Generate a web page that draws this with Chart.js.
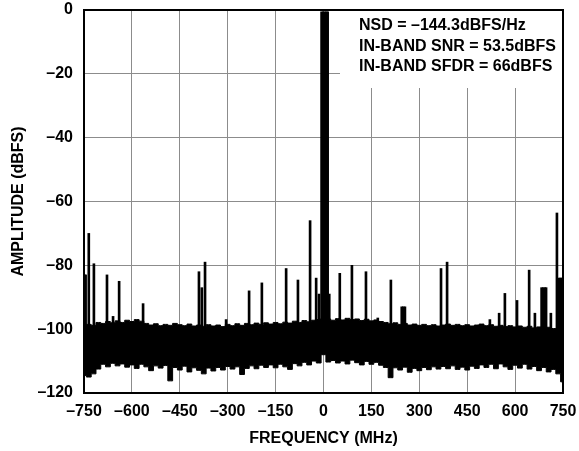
<!DOCTYPE html>
<html>
<head>
<meta charset="utf-8">
<script src="https://cdn.jsdelivr.net/npm/chart.js@4/dist/chart.umd.min.js"></script>
<style>
  html, body { margin: 0; padding: 0; background: #fff; }
  #wrap { width: 579px; height: 451px; }
</style>
</head>
<body>
<div id="wrap"><canvas id="fft-chart" width="579" height="451"></canvas></div>
<script>
// noise floor, sampled every 15 MHz (top and bottom of the black band)
const noiseFreqs = [
  -750, -735, -720, -705, -690, -675, -660, -645, -630, -615,
  -600, -585, -570, -555, -540, -525, -510, -495, -480, -465,
  -450, -435, -420, -405, -390, -375, -360, -345, -330, -315,
  -300, -285, -270, -255, -240, -225, -210, -195, -180, -165,
  -150, -135, -120, -105, -90, -75, -60, -45, -30, -15,
  0, 15, 30, 45, 60, 75, 90, 105, 120, 135,
  150, 165, 180, 195, 210, 225, 240, 255, 270, 285,
  300, 315, 330, 345, 360, 375, 390, 405, 420, 435,
  450, 465, 480, 495, 510, 525, 540, 555, 570, 585,
  600, 615, 630, 645, 660, 675, 690, 705, 720, 735, 750
];
const noiseTop = [
  -99.0, -98.5, -98.8, -97.9, -98.2, -97.6, -98.0, -97.4, -97.9, -97.2,
  -97.6, -97.0, -97.5, -98.2, -98.7, -98.3, -98.9, -98.5, -98.8, -98.2,
  -98.6, -98.9, -98.4, -99.0, -98.7, -99.1, -98.6, -99.0, -98.7, -99.2,
  -98.5, -98.9, -98.3, -98.8, -98.2, -98.6, -98.1, -98.5, -98.0, -98.4,
  -97.9, -98.3, -97.8, -98.1, -97.5, -97.9, -97.3, -97.7, -97.2, -97.0,
  -96.5, -96.8, -97.2, -96.7, -97.1, -96.6, -97.0, -96.8, -97.3, -96.9,
  -97.4, -97.1, -97.6, -97.9, -98.3, -98.0, -98.5, -98.2, -98.7, -98.4,
  -98.8, -98.5, -98.9, -98.6, -99.0, -98.7, -98.4, -98.8, -98.5, -98.9,
  -98.6, -99.0, -98.7, -98.4, -98.9, -98.6, -99.1, -98.8, -99.2, -98.9,
  -99.3, -99.0, -99.4, -99.1, -99.6, -99.3, -99.7, -99.4, -99.8, -99.9, -100.2
];
const noiseBottom = [
  -114.5, -115.0, -114.0, -112.5, -111.0, -111.8, -110.7, -111.5, -110.9, -111.9,
  -111.2, -112.3, -111.0, -111.8, -113.0, -111.5, -112.2, -111.4, -116.2, -112.0,
  -112.8, -111.6, -113.4, -112.1, -112.9, -114.0, -112.2, -113.1, -112.0, -112.8,
  -111.7, -112.5, -111.8, -114.2, -112.3, -111.5, -112.4, -111.3, -112.0, -111.2,
  -112.1, -111.0, -111.8, -112.6, -110.8, -111.5, -110.4, -111.2, -110.0, -110.6,
  -108.0, -110.3, -109.8, -110.6, -110.0, -110.9, -109.7, -110.5, -111.2, -110.1,
  -111.0, -110.4, -111.3, -112.0, -115.2, -112.1, -112.8, -111.9, -113.5, -112.3,
  -113.0, -112.0, -112.7, -111.8, -112.5, -111.7, -112.4, -111.5, -112.6, -111.9,
  -112.8, -111.6, -112.3, -111.2, -112.0, -111.0, -112.4, -110.9, -111.8, -112.6,
  -111.3, -112.2, -111.0, -112.5, -111.7, -113.0, -112.0, -113.4, -112.6, -114.0, -116.5
];

// fundamental and spurs (MHz, dBFS)
const spurFreqs = [
  -749, -745, -735, -719, -678, -659, -640, -565, -390, -381, -371, -305,
  -233, -193, -117, -80, -42, -23, -14,
  -6, -1, 4, 9, 13,
  18, 51, 89, 133, 170, 211, 245, 250, 255, 368, 387,
  521, 550, 568, 606, 644, 662, 683, 688, 693, 697, 712, 731,
  737, 741, 745, 749
];
const spurLevels = [
  -83, -83, -70, -79.5, -83, -96, -85, -92, -82, -87, -79, -97,
  -88, -85.5, -81, -84.6, -66, -84, -89,
  -0.6, -0.6, -0.6, -0.6, -0.6,
  -89, -82.5, -80, -82, -96.5, -84.6, -93, -93, -93, -81, -79,
  -97, -95, -88.8, -91, -81.5, -95, -87, -87, -87, -87, -95, -63.6,
  -84, -84, -84, -84
];
const spurBase = -105;

const xTicks = [-750, -600, -450, -300, -150, 0, 150, 300, 450, 600, 750];
const yTicks = [-120, -100, -80, -60, -40, -20, 0];

const noteLines = [
  'NSD = \u2013144.3dBFS/Hz',
  'IN-BAND SNR = 53.5dBFS',
  'IN-BAND SFDR = 66dBFS'
];

const FONT = '"Liberation Sans", Arial, Helvetica, sans-serif';

function dash(v) {
  return v < 0 ? '\u2013' + Math.abs(v) : String(v);
}

// white box with the measurement notes, drawn over the grid
const notesBox = {
  id: 'notesBox',
  beforeDatasetsDraw(chart) {
    const { ctx, chartArea } = chart;
    ctx.save();
    ctx.fillStyle = '#fff';
    ctx.fillRect(340, chartArea.top + 1, chartArea.right - 340, 77);
    ctx.fillStyle = '#000';
    ctx.font = 'bold 16px ' + FONT;
    ctx.textBaseline = 'middle';
    noteLines.forEach((t, i) => ctx.fillText(t, 359, 26 + i * 20.5));
    ctx.restore();
  },
  afterDraw(chart) {
    const { ctx, chartArea } = chart;
    ctx.save();
    ctx.strokeStyle = '#000';
    ctx.lineWidth = 2;
    ctx.strokeRect(chartArea.left, chartArea.top, chartArea.right - chartArea.left, chartArea.bottom - chartArea.top);
    ctx.restore();
  }
};

const ctx = document.getElementById('fft-chart').getContext('2d');

new Chart(ctx, {
  type: 'bar',
  data: {
    datasets: [
      {
        type: 'line',
        data: noiseFreqs.map((f, i) => ({ x: f, y: noiseTop[i] })),
        borderColor: '#000',
        borderWidth: 1,
        pointRadius: 0,
        stepped: 'middle',
        fill: false,
      },
      {
        type: 'line',
        data: noiseFreqs.map((f, i) => ({ x: f, y: noiseBottom[i] })),
        borderColor: '#000',
        backgroundColor: '#000',
        borderWidth: 1,
        pointRadius: 0,
        stepped: 'middle',
        fill: '-1',
      },
      {
        type: 'bar',
        data: spurFreqs.map((f, i) => ({ x: f, y: [spurBase, spurLevels[i]] })),
        backgroundColor: '#000',
        borderWidth: 0,
        barThickness: 2,
        grouped: false,
      },
    ],
  },
  options: {
    responsive: false,
    animation: false,
    layout: { padding: { top: 10, right: 16, left: 0, bottom: 0 } },
    plugins: {
      legend: { display: false },
      tooltip: { enabled: false },
    },
    scales: {
      x: {
        type: 'linear',
        min: -750,
        max: 750,
        offset: false,
        afterBuildTicks: (s) => { s.ticks = xTicks.map(v => ({ value: v })); },
        afterFit: (s) => { s.height = 58; s.paddingLeft = 0; s.paddingRight = 0; },
        grid: { color: '#8c8c8c', lineWidth: 1, drawTicks: false, offset: false },
        border: { display: false },
        ticks: {
          color: '#000',
          padding: 9,
          maxRotation: 0,
          font: { family: FONT, size: 16, weight: 'bold' },
          callback: (v) => dash(v),
        },
        title: {
          display: true,
          text: 'FREQUENCY (MHz)',
          color: '#000',
          padding: { top: 0, bottom: 3 },
          font: { family: FONT, size: 16, weight: 'bold' },
        },
      },
      y: {
        min: -120,
        max: 0,
        afterBuildTicks: (s) => { s.ticks = yTicks.map(v => ({ value: v })); },
        afterFit: (s) => { s.width = 84; s.paddingTop = 0; s.paddingBottom = 0; },
        grid: { color: '#8c8c8c', lineWidth: 1, drawTicks: false },
        border: { display: false },
        ticks: {
          color: '#000',
          padding: 11,
          font: { family: FONT, size: 16, weight: 'bold' },
          callback: (v) => dash(v),
        },
        title: {
          display: true,
          text: 'AMPLITUDE (dBFS)',
          color: '#000',
          padding: { top: 9, bottom: 0 },
          font: { family: FONT, size: 16, weight: 'bold' },
        },
      },
    },
  },
  plugins: [notesBox],
});
</script>
</body>
</html>
